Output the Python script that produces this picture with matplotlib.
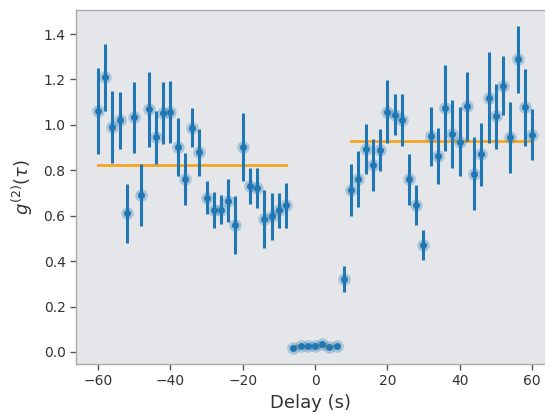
import numpy as np
import matplotlib
matplotlib.use("Agg")
import matplotlib.pyplot as plt

# Delay bins (s) and measured g2 with standard errors
delay_left = [-60, -58, -56, -54, -52, -50, -48, -46, -44, -42, -40, -38, -36, -34,
              -32, -30, -28, -26, -24, -22, -20, -18, -16, -14, -12, -10, -8]
g2_left = [1.062, 1.209, 0.991, 1.020, 0.611, 1.033, 0.691, 1.069, 0.945, 1.054,
           1.058, 0.904, 0.762, 0.988, 0.879, 0.680, 0.625, 0.627, 0.666, 0.559,
           0.903, 0.730, 0.721, 0.587, 0.597, 0.624, 0.646]
err_left = [0.19, 0.147, 0.16, 0.125, 0.13, 0.155, 0.137, 0.166, 0.116, 0.137,
            0.136, 0.127, 0.116, 0.085, 0.104, 0.074, 0.079, 0.065, 0.095, 0.126,
            0.15, 0.08, 0.089, 0.127, 0.105, 0.076, 0.098]

delay_mid = [-6, -4, -2, 0, 2, 4, 6]
g2_mid = [0.019, 0.025, 0.026, 0.026, 0.035, 0.023, 0.025]
err_mid = [0.004, 0.004, 0.004, 0.004, 0.004, 0.004, 0.004]

delay_right = [8, 10, 12, 14, 16, 18, 20, 22, 24, 26, 28, 30, 32, 34, 36, 38, 40,
               42, 44, 46, 48, 50, 52, 54, 56, 58, 60]
g2_right = [0.323, 0.713, 0.762, 0.894, 0.823, 0.889, 1.058, 1.044, 1.020, 0.760,
            0.647, 0.471, 0.950, 0.862, 1.074, 0.960, 0.926, 1.083, 0.785, 0.870,
            1.120, 1.038, 1.173, 0.945, 1.289, 1.077, 0.957]
err_right = [0.057, 0.113, 0.122, 0.112, 0.114, 0.094, 0.139, 0.09, 0.115, 0.112,
             0.088, 0.066, 0.13, 0.123, 0.19, 0.148, 0.151, 0.152, 0.16, 0.138,
             0.2, 0.142, 0.129, 0.158, 0.148, 0.17, 0.113]

# Mean levels for each region
mean_left = 0.823
mean_mid = 0.026
mean_right = 0.930

delay = delay_left + delay_mid + delay_right
g2 = g2_left + g2_mid + g2_right
err = err_left + err_mid + err_right

blue = "#1f77b4"
orange = "#f5a623"

fig = plt.figure(figsize=(5.45, 4.15), dpi=100)
ax = fig.add_axes([0.1394, 0.1229, 0.8606, 0.853])
ax.set_facecolor("#e5e6e9")

ax.errorbar(delay, g2, yerr=err, fmt="none", ecolor=blue, elinewidth=2.2,
            capsize=0, zorder=2)
ax.plot(delay, g2, "o", color=blue, markersize=9, alpha=0.3, markeredgewidth=0,
        zorder=3)
ax.plot(delay, g2, "o", color=blue, markersize=5, markeredgewidth=0, zorder=4)

ax.plot([delay_left[0], delay_left[-1]], [mean_left, mean_left], color=orange,
        lw=2, zorder=1.5)
ax.plot([delay_mid[0], delay_mid[-1]], [mean_mid, mean_mid], color=orange,
        lw=2, zorder=2.5)
ax.plot([delay_right[1], delay_right[-1]], [mean_right, mean_right], color=orange,
        lw=2, zorder=1.5)

ax.set_xlim(-66.1, 63.6)
ax.set_ylim(-0.053, 1.506)
ax.set_xticks([-60, -40, -20, 0, 20, 40, 60])
ax.set_yticks([0.0, 0.2, 0.4, 0.6, 0.8, 1.0, 1.2, 1.4])

for side in ["left", "bottom", "top"]:
    ax.spines[side].set_color("#aaaaaa")
    ax.spines[side].set_linewidth(1.0)
ax.spines["right"].set_visible(False)
ax.tick_params(colors="#333333", labelsize=10, length=4, width=1, direction="out")
ax.tick_params(axis="both", color="#555555")

ax.set_xlabel("Delay (s)", fontsize=13, color="#333333", labelpad=4)
ax.set_ylabel(r"$g^{(2)}(\tau)$", fontsize=13, color="#333333", labelpad=6)

fig.savefig("out.png", dpi=100)
